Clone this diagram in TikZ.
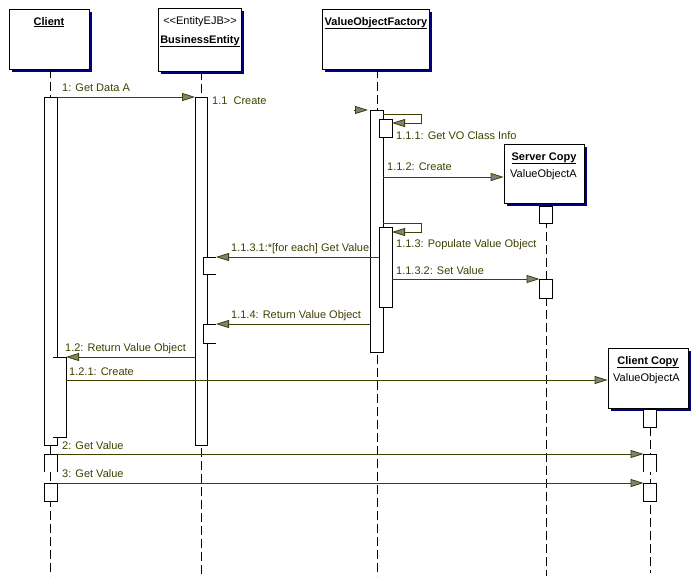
\documentclass[tikz,border=0pt]{standalone}
\usepackage{fontspec}
\setmainfont{Liberation Sans}
\usetikzlibrary{arrows.meta,shadows}
\definecolor{msgc}{RGB}{64,64,0}
\definecolor{headc}{RGB}{128,128,128}
\definecolor{shadc}{RGB}{0,0,128}
\begin{document}
\begin{tikzpicture}[x=1pt,y=-1pt,
  font=\fontsize{11}{13}\selectfont,
  objbox/.style={draw=black, fill=white, line width=0.8pt, inner sep=0pt,
    drop shadow={shadow xshift=3pt, shadow yshift=-3pt, fill=shadc, opacity=1}},
  life/.style={draw=black, line width=0.8pt, dash pattern=on 9pt off 4pt},
  bar/.style={draw=black, fill=white, line width=0.8pt},
  edge/.style={draw=black, line width=0.8pt},
  msg/.style={draw=msgc, line width=0.8pt, -{Triangle[length=13pt,width=8pt,fill=headc]}},
  lbl/.style={anchor=base west, inner sep=0pt, text=msgc},
  ttl/.style={anchor=base, inner sep=0pt, font=\fontsize{11}{13}\selectfont\bfseries},
  txt/.style={anchor=base, inner sep=0pt},
  txtw/.style={anchor=base west, inner sep=0pt}]
\useasboundingbox (0,0) rectangle (700,584);
\fill[white] (0,0) rectangle (700,584);

% object boxes
\node[objbox, minimum width=80pt, minimum height=60pt] (client) at (49,39) {};
\node[objbox, minimum width=83pt, minimum height=63pt] (be) at (199.5,39.5) {};
\node[objbox, minimum width=107pt, minimum height=60pt] (vof) at (375.5,39) {};
\node[objbox, minimum width=80pt, minimum height=59pt] (sc) at (544,173.5) {};
\node[objbox, minimum width=80pt, minimum height=60pt] (cc) at (648,378) {};

\node[ttl] (clientT) at (49,25) {\underline{Client}};
\node[txt] (beS) at (200,24) {<\kern0pt<EntityEJB>\kern0pt>};
\node[ttl] (beT) at (200,43) {\underline{BusinessEntity}};
\node[ttl] (vofT) at (376,25) {\underline{ValueObjectFactory}};
\node[ttl] (scT) at (544,160) {\underline{Server Copy}};
\node[txtw] (scV) at (510,177) {ValueObjectA};
\node[ttl] (ccT) at (648,364) {\underline{Client Copy}};
\node[txtw] (ccV) at (613,381) {ValueObjectA};

% lifelines
\coordinate (clA) at (50.5,69);  \coordinate (clB) at (50.5,576);
\coordinate (beA) at (201,71);   \coordinate (beB) at (201,576);
\coordinate (vfA) at (377,69);   \coordinate (vfB) at (377,576);
\coordinate (scA) at (546,206);  \coordinate (scB) at (546,576);
\coordinate (ccA) at (650,427);  \coordinate (ccB) at (650,573);
\draw[life] (clA) -- (clB);
\draw[life] (beA) -- (beB);
\draw[life] (vfA) -- (vfB);
\draw[life] (scA) -- (scB);
\draw[life] (ccA) -- (ccB);

% activation bars
\draw[bar] (44,97) rectangle (57,445);
\fill[white] (53,357) rectangle (66,437);
\draw[edge] (53,357) -- (66,357) -- (66,437) -- (53,437);
\fill[white] (44,454) rectangle (57,472);
\draw[edge] (44,472) -- (44,454) -- (57,454) -- (57,472);
\draw[bar] (44,483) rectangle (57,501);

\draw[bar] (195,97) rectangle (207,445);
\fill[white] (203,257) rectangle (216,274);
\draw[edge] (216,257) -- (203,257) -- (203,274) -- (216,274);
\fill[white] (203,324) rectangle (216,343);
\draw[edge] (216,324) -- (203,324) -- (203,343) -- (216,343);

\draw[bar] (370,110) rectangle (383,352);
\draw[bar] (379,119) rectangle (392,137);
\draw[bar] (379,227) rectangle (392,307);

\draw[bar] (539.5,206) rectangle (552.5,223);
\draw[bar] (539.5,279) rectangle (552.5,298);

\draw[bar] (643.5,409) rectangle (656.5,427);
\fill[white] (643.5,454) rectangle (656.5,472);
\draw[edge] (643.5,472) -- (643.5,454) -- (656.5,454) -- (656.5,472);
\draw[bar] (643.5,483) rectangle (656.5,501);

% message end points
\coordinate (m1a) at (57,97);    \coordinate (m1b) at (195,97);
\coordinate (m11a) at (354,110); \coordinate (m11b) at (368,110);
\coordinate (s1a) at (383,114);  \coordinate (s1b) at (421,123); \coordinate (s1c) at (392,123);
\coordinate (m112a) at (383,177); \coordinate (m112b) at (sc.west |- 0,177);
\coordinate (s2a) at (383,223);  \coordinate (s2b) at (421,232); \coordinate (s2c) at (392,232);
\coordinate (m1131a) at (379,257); \coordinate (m1131b) at (216,257);
\coordinate (m1132a) at (392,279); \coordinate (m1132b) at (539.5,279);
\coordinate (m114a) at (370,324); \coordinate (m114b) at (216,324);
\coordinate (m12a) at (195,357); \coordinate (m12b) at (66,357);
\coordinate (m121a) at (66,380); \coordinate (m121b) at (cc.west |- 0,380);
\coordinate (m2a) at (57,454);   \coordinate (m2b) at (643.5,454);
\coordinate (m3a) at (57,483);   \coordinate (m3b) at (643.5,483);

% messages
\draw[msg] (m1a) -- (m1b);
\draw[msg] (m11a) -- (m11b);
\draw[msg] (s1a) -| (s1b) -- (s1c);
\draw[msg] (m112a) -- (m112b);
\draw[msg] (s2a) -| (s2b) -- (s2c);
\draw[msg] (m1131a) -- (m1131b);
\draw[msg] (m1132a) -- (m1132b);
\draw[msg] (m114a) -- (m114b);
\draw[msg] (m12a) -- (m12b);
\draw[msg] (m121a) -- (m121b);
\draw[msg] (m2a) -- (m2b);
\draw[msg] (m3a) -- (m3b);

% labels
\node[lbl] (l1) at (62,91) {1: Get Data A};
\node[lbl] (l11) at (212,104) {1.1~~Create};
\node[lbl] (l111) at (396,139) {1.1.1: Get VO Class Info};
\node[lbl] (l112) at (387,170) {1.1.2: Create};
\node[lbl] (l113) at (396,247) {1.1.3: Populate Value Object};
\node[lbl] (l1131) at (231,251) {1.1.3.1:*[for each] Get Value};
\node[lbl] (l1132) at (396,274) {1.1.3.2: Set Value};
\node[lbl] (l114) at (231,318) {1.1.4: Return Value Object};
\node[lbl] (l12) at (65,351) {1.2: Return Value Object};
\node[lbl] (l121) at (69,375) {1.2.1: Create};
\node[lbl] (l2) at (62,449) {2: Get Value};
\node[lbl] (l3) at (62,477) {3: Get Value};
\end{tikzpicture}
\end{document}
